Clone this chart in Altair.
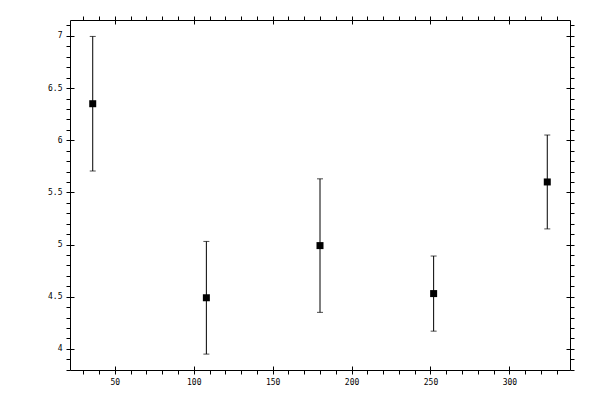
import altair as alt
import pandas as pd

# data
xs = [36, 108, 180, 252, 324]
means = [6.35, 4.49, 4.99, 4.53, 5.60]
errs = [0.645, 0.54, 0.64, 0.36, 0.45]

x_minor = list(range(30, 331, 10))
x_major = [50, 100, 150, 200, 250, 300]
y_minor = [round(3.8 + 0.1 * i, 1) for i in range(34)]
y_major = [4.0, 4.5, 5.0, 5.5, 6.0, 6.5, 7.0]

df = pd.DataFrame({
    "x": xs,
    "y": means,
    "lo": [m - e for m, e in zip(means, errs)],
    "hi": [m + e for m, e in zip(means, errs)],
})

FONT = "DejaVu Sans Mono"
xscale = alt.Scale(domain=[21.6, 338.4], nice=False, zero=False)
yscale = alt.Scale(domain=[3.7975, 7.1525], nice=False, zero=False)

common = dict(tickColor="black", tickWidth=1, domainColor="black", domainWidth=1,
              grid=False, title=None, labelFont=FONT, labelFontSize=8,
              labelColor="black")


def main_axis(orient, values, labels, expr):
    kw = dict(common)
    kw.update(orient=orient, values=values, tickSize=4, domain=True,
              labels=labels, labelPadding=4, labelFlush=False,
              labelOverlap=False)
    if labels:
        kw["labelExpr"] = expr
    return alt.Axis(**kw)


def inner_axis(orient, values):
    kw = dict(common)
    kw.update(orient=orient, values=values, tickSize=4, domain=False,
              labels=False, offset=-4)
    return alt.Axis(**kw)


xexpr = "datum.value % 50 == 0 ? '' + datum.value : ''"
yexpr = "datum.value * 2 == round(datum.value * 2) ? '' + datum.value : ''"

base = alt.Chart(df)

bars = base.mark_rule(color="black", strokeWidth=1).encode(
    x=alt.X("x:Q", scale=xscale, axis=main_axis("bottom", x_minor, True, xexpr)),
    y=alt.Y("lo:Q", scale=yscale, axis=main_axis("left", y_minor, True, yexpr)),
    y2="hi:Q",
)

caps_lo = base.mark_tick(orient="horizontal", size=6, thickness=1, color="black").encode(
    x=alt.X("x:Q", scale=xscale, axis=inner_axis("bottom", x_major)),
    y=alt.Y("lo:Q", scale=yscale, axis=inner_axis("left", y_major)),
)

caps_hi = base.mark_tick(orient="horizontal", size=6, thickness=1, color="black").encode(
    x=alt.X("x:Q", scale=xscale, axis=main_axis("top", x_minor, False, xexpr)),
    y=alt.Y("hi:Q", scale=yscale, axis=main_axis("right", y_minor, False, yexpr)),
)

points = base.mark_square(size=49, color="black", opacity=1, filled=True).encode(
    x=alt.X("x:Q", scale=xscale, axis=inner_axis("top", x_major)),
    y=alt.Y("y:Q", scale=yscale, axis=inner_axis("right", y_major)),
)

chart = alt.layer(bars, caps_lo, caps_hi, points).resolve_axis(
    x="independent", y="independent"
).properties(
    width=500,
    height=350,
    autosize=alt.AutoSizeParams(type="none"),
    padding={"left": 62, "top": 12, "right": 22, "bottom": 22},
    background="white",
).configure_view(strokeWidth=0)

chart.save("out.html", embed_options={"renderer": "svg", "actions": False})
